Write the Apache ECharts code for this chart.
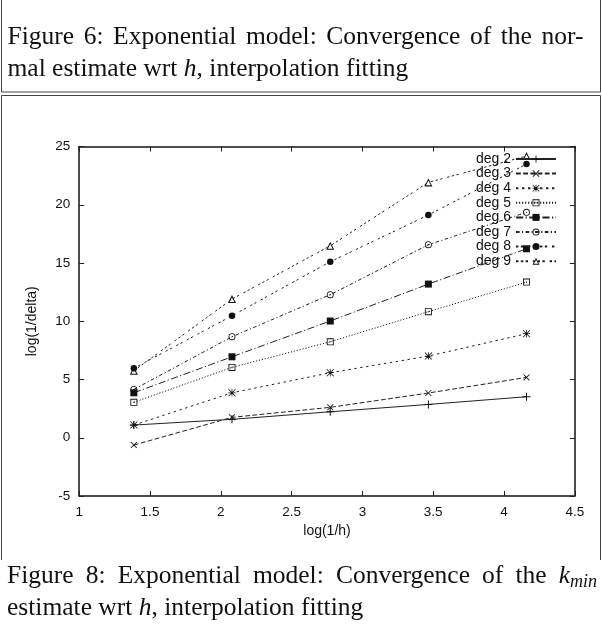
<!DOCTYPE html>
<html><head><meta charset="utf-8">
<script src="https://cdn.jsdelivr.net/npm/echarts@6/dist/echarts.min.js"></script>
<style>html,body{margin:0;padding:0;background:#fff}#c{width:602px;height:629px}</style>
</head><body><div id="c"></div>
<script>
// ---------------- data ----------------
const xValues = [1.386, 2.079, 2.773, 3.466, 4.159];
const deg2 = [1.09, 1.58, 2.23, 2.86, 3.52];
const deg3 = [-0.63, 1.75, 2.61, 3.84, 5.18];
const deg4 = [1.09, 3.86, 5.58, 7.01, 8.93];
const deg5 = [3.04, 6.04, 8.24, 10.82, 13.36];
const deg6 = [3.86, 6.95, 10.02, 13.19, 16.22];
const deg7 = [4.15, 8.67, 12.28, 16.57, 19.35];
const deg8 = [5.96, 10.47, 15.11, 19.12, 23.49];
const deg9 = [5.75, 11.90, 16.48, 21.92, 24.18];
const seriesNames = ['deg 2','deg 3','deg 4','deg 5','deg 6','deg 7','deg 8','deg 9'];
const xTickLabels = ['1','1.5','2','2.5','3','3.5','4','4.5'];
const yTickLabels = ['-5','0','5','10','15','20','25'];
const xTitle = 'log(1/h)';
const yTitle = 'log(1/delta)';
const topCap1 = ['Figure','6:','Exponential','model:','Convergence','of','the','nor-'];
const topCap2 = ['mal estimate wrt ','h',', interpolation fitting'];
const botCap1 = ['Figure','8:','Exponential','model:','Convergence','of','the','k_min'];
const botCap2 = ['estimate wrt ','h',', interpolation fitting'];

// ---------------- styles ----------------
const X_MIN = 1, X_MAX = 4.5, X_STEP = 0.5;
const Y_MIN = -5, Y_MAX = 25, Y_STEP = 5;
const SANS = 'Liberation Sans';
const SERIF = 'Liberation Serif';
const FS = 25.5, SUB = 18;
const INK = '#111';

const SYM_PLUS = 'path://M0,3.5H8V4.5H0Z M3.5,0H4.5V8H3.5Z';
const SYM_CROSS = 'path://M0.7,0L4,3.3L7.3,0L8,0.7L4.7,4L8,7.3L7.3,8L4,4.7L0.7,8L0,7.3L3.3,4L0,0.7Z';
const SYM_STAR = 'path://M0,3.6H8V4.4H0Z M3.6,0H4.4V8H3.6Z M0.6,0L4,3.4L7.4,0L8,0.6L4.6,4L8,7.4L7.4,8L4,4.6L0.6,8L0,7.4L3.4,4L0,0.6Z';
const SYM_OSQ = 'path://M0,0H8V8H0Z M1,1V7H7V1Z M3.4,3.4H4.6V4.6H3.4Z';
const SYM_OCIRC = 'path://M4,0A4,4,0,1,1,4,8A4,4,0,1,1,4,0Z M4,1A3,3,0,1,0,4,7A3,3,0,1,0,4,1Z M4,3.3A0.7,0.7,0,1,1,4,4.7A0.7,0.7,0,1,1,4,3.3Z';
const SYM_OTRI = 'path://M4,0L8,7H0Z M4,2L1.6,6.1H6.4Z';
const seriesStyles = [
  {sym: SYM_PLUS, size: 8, dash: 'solid'},
  {sym: SYM_CROSS, size: 6.5, dash: [4.8, 2.4]},
  {sym: SYM_STAR, size: 7.5, dash: [2.4, 3.6]},
  {sym: SYM_OSQ, size: 7, dash: [1.2, 1.8]},
  {sym: 'rect', size: 7, dash: [7.2, 2.4, 1.2, 2.4]},
  {sym: SYM_OCIRC, size: 7, dash: [3.6, 2.4, 1.2, 2.4]},
  {sym: 'circle', size: 6.5, dash: [2.4, 2.4, 2.4, 4.8]},
  {sym: SYM_OTRI, size: 8, dash: [2.4, 2.4, 2.4, 2.4, 2.4, 4.8]}
];
const seriesData = [deg2, deg3, deg4, deg5, deg6, deg7, deg8, deg9];

// ---------------- caption helpers ----------------
const ctx = document.createElement('canvas').getContext('2d');
function tw(t, size, italic) { ctx.font = (italic ? 'italic ' : '') + size + 'px "' + SERIF + '"'; return ctx.measureText(t).width; }
function textEl(t, x, y, size, italic) {
  return {type: 'text', x: x, y: y, silent: true,
    style: {text: t, fontFamily: SERIF, fontSize: size, fontStyle: italic ? 'italic' : 'normal', fill: INK, verticalAlign: 'middle', align: 'left'}};
}
function justified(words, x0, x1, yc) {
  const parts = words.map(w => w === 'k_min'
    ? {w: tw('k', FS, true) + tw('min', SUB, true), kmin: true}
    : {w: tw(w, FS, false), text: w});
  const total = parts.reduce((s, p) => s + p.w, 0);
  const gap = (x1 - x0 - total) / (parts.length - 1);
  let x = x0; const els = [];
  parts.forEach(p => {
    if (p.kmin) {
      els.push(textEl('k', x, yc, FS, true));
      els.push(textEl('min', x + tw('k', FS, true), yc + 6, SUB, true));
    } else els.push(textEl(p.text, x, yc, FS, false));
    x += p.w + gap;
  });
  return els;
}
function plainLine(parts, x0, yc) {
  const els = []; let x = x0;
  parts.forEach((t, i) => {
    const it = (i === 1);
    els.push(textEl(t, x, yc, FS, it));
    x += tw(t, FS, it);
  });
  return els;
}
function seg(x1, y1, x2, y2) {
  return {type: 'line', silent: true, shape: {x1, y1, x2, y2}, style: {stroke: '#444', lineWidth: 1}};
}

const graphics = [
  seg(1.5, 0, 1.5, 92), seg(600.5, 0, 600.5, 92), seg(1.5, 92, 600.5, 92),
  seg(1.5, 95.5, 600.5, 95.5), seg(1.5, 95.5, 1.5, 560), seg(600.5, 95.5, 600.5, 560)
].concat(
  justified(topCap1, 7.5, 583.5, 37),
  plainLine(topCap2, 7.5, 69.5),
  justified(botCap1, 7, 597, 576),
  plainLine(botCap2, 7, 608.5)
);

// ---------------- chart ----------------
const axisBase = {
  type: 'value',
  axisLine: {show: true, onZero: false, lineStyle: {color: INK, width: 1.5}},
  axisTick: {show: true, inside: true, length: 5, lineStyle: {color: '#222', width: 1}},
  splitLine: {show: false}
};
const chart = echarts.init(document.getElementById('c'), null, {renderer: 'canvas'});
chart.setOption({
  animation: false,
  backgroundColor: '#fff',
  grid: {left: 79.2, right: 27.2, top: 146.5, bottom: 133},
  xAxis: [
    Object.assign({}, axisBase, {
      min: X_MIN, max: X_MAX, interval: X_STEP, position: 'bottom',
      name: xTitle, nameLocation: 'middle', nameGap: 27,
      nameTextStyle: {fontFamily: SANS, fontSize: 14, color: INK},
      axisLabel: {margin: 9, fontFamily: SANS, fontSize: 13.5, color: INK,
        formatter: v => xTickLabels[Math.round((v - X_MIN) / X_STEP)]}
    }),
    Object.assign({}, axisBase, {min: X_MIN, max: X_MAX, interval: X_STEP, position: 'top', axisLabel: {show: false}})
  ],
  yAxis: [
    Object.assign({}, axisBase, {
      min: Y_MIN, max: Y_MAX, interval: Y_STEP, position: 'left',
      name: yTitle, nameLocation: 'middle', nameGap: 40,
      nameTextStyle: {fontFamily: SANS, fontSize: 14, color: INK},
      axisLabel: {margin: 9, fontFamily: SANS, fontSize: 13.5, color: INK,
        formatter: v => yTickLabels[Math.round((v - Y_MIN) / Y_STEP)]}
    }),
    Object.assign({}, axisBase, {min: Y_MIN, max: Y_MAX, interval: Y_STEP, position: 'right', axisLabel: {show: false}})
  ],
  legend: {
    orient: 'vertical', right: 45, top: 152, align: 'right', padding: 0,
    itemWidth: 40, itemHeight: 8.75, itemGap: 0.6, selectedMode: false,
    textStyle: {fontFamily: SANS, fontSize: 14, color: INK},
    data: seriesNames
  },
  graphic: graphics,
  series: seriesNames.map((name, i) => ({
    name: name, type: 'line', xAxisIndex: 0, yAxisIndex: 0,
    data: xValues.map((x, j) => [x, seriesData[i][j]]),
    symbol: seriesStyles[i].sym, symbolSize: seriesStyles[i].size, showSymbol: true,
    lineStyle: {color: '#222', width: 1, type: seriesStyles[i].dash},
    itemStyle: {color: '#111', borderWidth: 0},
    emphasis: {disabled: true}
  }))
});
</script></body></html>
